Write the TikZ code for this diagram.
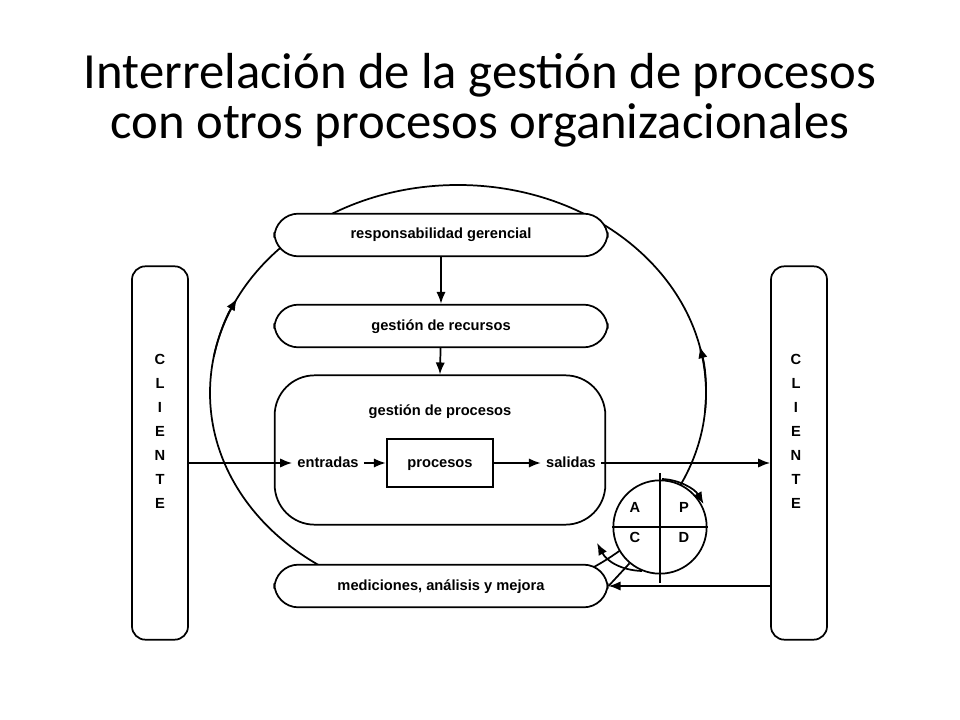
\documentclass[tikz,border=0pt]{standalone}
\usepackage{fontspec}
\setmainfont{Liberation Sans}
\newfontfamily\titlefont{Carlito}
\usetikzlibrary{arrows.meta}
\begin{document}
\begin{tikzpicture}[x=0.75pt,y=-0.75pt,line width=1.3pt,>={Latex[length=9pt,width=7pt]},
  bar/.style={draw,fill=white,rounded corners=18pt,minimum width=250pt,minimum height=32pt},
  cli/.style={draw,fill=white,rounded corners=10pt,minimum width=42pt,minimum height=280pt},
  lbl/.style={font=\bfseries\fontsize{11}{13}\selectfont,text height=8pt,text depth=2pt}]
\useasboundingbox (0,0) rectangle (960,720);
\node[font=\titlefont\fontsize{38}{38}\selectfont,align=center] (title) at (480,75) {Interrelación de la gestión de procesos};
\node[font=\titlefont\fontsize{38}{38}\selectfont,align=center] (title2) at (480,125) {con otros procesos organizacionales};
\draw (458,393) ellipse[x radius=248,y radius=208];
\node[bar] (rg) at (441,235) {};
\node[lbl] (rgl) at (441,235) {responsabilidad gerencial};
\node[bar] (gr) at (441,326) {};
\node[lbl] (grl) at (441,326) {gestión de recursos};
\node[bar] (mm) at (441,586) {};
\node[lbl] (mml) at (441,586) {mediciones, análisis y mejora};
\node[draw,fill=white,rounded corners=30pt,minimum width=248pt,minimum height=112pt] (gp) at (440,450) {};
\node[lbl] (gpl) at (440,411) {gestión de procesos};
\node[draw,lbl,minimum width=80pt,minimum height=36pt] (pr) at (440,463) {procesos};
\node[lbl] (en) at (328,463) {entradas};
\node[lbl] (sa) at (571,463) {salidas};
\node[cli] (cl) at (160,453) {};
\node[cli] (cr) at (799,453) {};
\node[align=center,font=\bfseries\fontsize{11}{18}\selectfont] (cll) at (160,431) {C\\L\\I\\E\\N\\T\\E};
\node[align=center,font=\bfseries\fontsize{11}{18}\selectfont] (crl) at (796,431) {C\\L\\I\\E\\N\\T\\E};
\draw[->] (rg) -- (gr);
\draw[->] (gr) -- (gp.north);
\draw[->] (cl.east |- en) -- (en);
\draw[->] (en) -- (pr);
\draw[->] (pr) -- (sa);
\draw[->] (sa) -- (cr.west |- sa);
\draw[->] (cr.west |- mm) -- (mm);
\draw[->] (458,393) ++(190:248 and 208) arc[start angle=190,end angle=207,x radius=248,y radius=208];
\draw[->] (458,393) ++(5:248 and 208) arc[start angle=5,end angle=-13,x radius=248,y radius=208];
\node[draw,circle,fill=white,minimum size=70pt] (pd) at (660,527) {};
\draw ([yshift=5]pd.north) -- ([yshift=-6]pd.south);
\draw (pd.west) -- (pd.east);
\node[lbl] (pa) at (635,508) {A};
\node[lbl] (pp) at (684,508) {P};
\node[lbl] (pc) at (635,538) {C};
\node[lbl] (pdd) at (684,538) {D};
\draw[->] (662,479) arc[start angle=-88,end angle=-30,radius=50];
\draw (pd.-130) -- (mm.east);
\draw[->] (642,571) to[bend left=30] (597,543);
\end{tikzpicture}
\end{document}
